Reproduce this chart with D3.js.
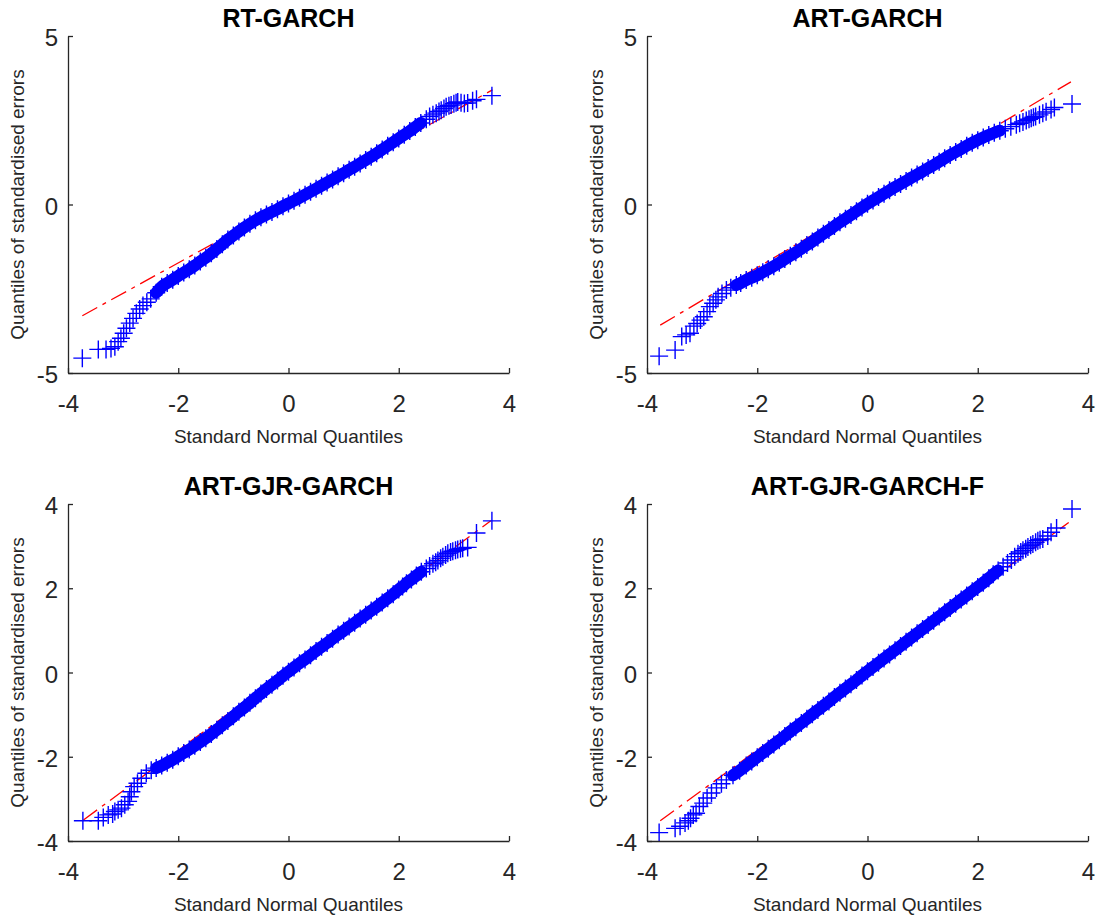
<!DOCTYPE html>
<html>
<head>
<meta charset="utf-8">
<script src="https://cdn.jsdelivr.net/npm/d3@7"></script>
<style>
  html, body { margin: 0; padding: 0; background: #fff; }
  svg { display: block; }
  text { font-family: "Liberation Sans", Arial, Helvetica, sans-serif; }
</style>
</head>
<body>
<svg id="chart" width="1099" height="917"></svg>
<script>
// ---------------- data ----------------
const titles = ["RT-GARCH", "ART-GARCH", "ART-GJR-GARCH", "ART-GJR-GARCH-F"];
const xLabel = "Standard Normal Quantiles";
const yLabel = "Quantiles of standardised errors";
const xTicks = [-4, -2, 0, 2, 4];
const yTicksTop = [-5, 0, 5];
const yTicksBottom = [-4, -2, 0, 2, 4];

// RT-GARCH: theoretical quantiles / sample quantiles
const rtX = [-3.74,-3.45,-3.31,-3.22,-3.15,-3.09,-3.04,-2.99,-2.94,-2.88,-2.82,-2.76,-2.70,-2.64,-2.57,
  -2.50,-2.40,-2.30,-2.20,-2.10,-2.00,-1.90,-1.80,-1.70,-1.60,-1.50,-1.40,-1.30,-1.20,-1.10,-1.00,
  -0.90,-0.80,-0.70,-0.60,-0.50,-0.40,-0.30,-0.20,-0.10,0.00,0.10,0.20,0.30,0.40,0.50,0.60,0.70,0.80,
  0.90,1.00,1.10,1.20,1.30,1.40,1.50,1.60,1.70,1.80,1.90,2.00,2.10,2.20,2.30,2.40,2.50,2.56,2.62,2.68,
  2.73,2.77,2.82,2.86,2.91,2.95,3.00,3.04,3.07,3.13,3.19,3.25,3.34,3.41,3.69];
const rtY = [-4.56,-4.30,-4.30,-4.27,-4.22,-4.07,-3.97,-3.82,-3.67,-3.52,-3.38,-3.23,-3.10,-3.00,-2.90,
  -2.80,-2.62,-2.44,-2.33,-2.23,-2.12,-2.02,-1.92,-1.81,-1.69,-1.58,-1.45,-1.32,-1.18,-1.04,-0.92,
  -0.80,-0.68,-0.57,-0.47,-0.38,-0.30,-0.22,-0.14,-0.05,0.03,0.11,0.20,0.29,0.38,0.47,0.56,0.65,0.74,
  0.84,0.93,1.03,1.12,1.22,1.32,1.42,1.52,1.63,1.74,1.85,1.96,2.07,2.18,2.30,2.42,2.53,2.61,2.66,2.71,
  2.76,2.80,2.85,2.90,2.93,2.95,2.99,3.02,3.04,3.02,3.00,3.01,3.08,3.12,3.23];
const rtRef = [[-3.74, -3.30], [3.70, 3.40]];

// ART-GARCH
const artX = [-3.78,-3.49,-3.37,-3.29,-3.22,-3.15,-3.09,-3.03,-2.97,-2.91,-2.86,-2.80,-2.75,-2.71,-2.64,
  -2.56,-2.48,-2.38,-2.30,-2.20,-2.10,-2.00,-1.90,-1.80,-1.70,-1.60,-1.50,-1.40,-1.30,-1.20,-1.10,-1.00,
  -0.90,-0.80,-0.70,-0.60,-0.50,-0.40,-0.30,-0.20,-0.10,0.00,0.10,0.20,0.30,0.40,0.50,0.60,0.70,0.80,
  0.90,1.00,1.10,1.20,1.30,1.40,1.50,1.60,1.70,1.80,1.90,2.00,2.10,2.20,2.30,2.40,2.50,2.60,2.70,2.76,
  2.82,2.88,2.93,2.97,3.01,3.05,3.12,3.18,3.24,3.33,3.39,3.71];
const artY = [-4.50,-4.32,-3.92,-3.87,-3.82,-3.61,-3.53,-3.43,-3.33,-3.18,-3.03,-2.93,-2.83,-2.74,-2.64,
  -2.54,-2.47,-2.39,-2.33,-2.24,-2.17,-2.10,-2.01,-1.92,-1.83,-1.73,-1.62,-1.52,-1.42,-1.31,-1.20,-1.10,
  -0.98,-0.87,-0.76,-0.64,-0.53,-0.42,-0.31,-0.20,-0.09,0.02,0.12,0.22,0.32,0.42,0.52,0.61,0.70,0.80,
  0.89,0.98,1.08,1.17,1.27,1.37,1.47,1.56,1.65,1.74,1.83,1.91,1.99,2.06,2.13,2.19,2.25,2.31,2.37,2.41,
  2.45,2.49,2.53,2.56,2.59,2.61,2.66,2.71,2.75,2.82,2.88,2.98];
const artRef = [[-3.76, -3.58], [3.69, 3.64]];

// ART-GJR-GARCH
const gjrX = [-3.73,-3.45,-3.36,-3.27,-3.19,-3.15,-3.09,-3.03,-2.97,-2.91,-2.88,-2.85,-2.80,-2.74,-2.67,
  -2.58,-2.49,-2.40,-2.30,-2.20,-2.10,-2.00,-1.90,-1.80,-1.70,-1.60,-1.50,-1.40,-1.30,-1.20,-1.10,-1.00,
  -0.90,-0.80,-0.70,-0.60,-0.50,-0.40,-0.30,-0.20,-0.10,0.00,0.10,0.20,0.30,0.40,0.50,0.60,0.70,0.80,
  0.90,1.00,1.10,1.20,1.30,1.40,1.50,1.60,1.70,1.80,1.90,2.00,2.07,2.14,2.23,2.32,2.41,2.50,2.56,2.62,
  2.67,2.71,2.76,2.80,2.85,2.89,2.94,2.98,3.03,3.07,3.12,3.16,3.25,3.41,3.69];
const gjrY = [-3.52,-3.52,-3.44,-3.38,-3.36,-3.30,-3.26,-3.22,-3.14,-3.06,-2.95,-2.83,-2.71,-2.63,-2.51,
  -2.39,-2.32,-2.27,-2.21,-2.14,-2.07,-1.99,-1.91,-1.83,-1.74,-1.65,-1.56,-1.46,-1.36,-1.25,-1.15,-1.04,
  -0.93,-0.83,-0.72,-0.61,-0.50,-0.39,-0.29,-0.19,-0.08,0.02,0.12,0.22,0.31,0.41,0.51,0.61,0.70,0.80,
  0.90,0.99,1.09,1.18,1.28,1.37,1.47,1.56,1.66,1.76,1.86,1.97,2.04,2.12,2.21,2.30,2.39,2.47,2.53,2.58,
  2.62,2.66,2.71,2.75,2.79,2.83,2.86,2.88,2.90,2.92,2.94,2.95,2.97,3.31,3.60];
const gjrRef = [[-3.72, -3.50], [3.67, 3.60]];

// ART-GJR-GARCH-F
const gjrfX = [-3.78,-3.49,-3.40,-3.31,-3.25,-3.21,-3.16,-3.11,-3.05,-2.98,-2.91,-2.83,-2.74,-2.65,-2.56,
  -2.44,-2.32,-2.20,-2.10,-2.00,-1.90,-1.80,-1.70,-1.60,-1.50,-1.40,-1.30,-1.20,-1.10,-1.00,
  -0.90,-0.80,-0.70,-0.60,-0.50,-0.40,-0.30,-0.20,-0.10,0.00,0.10,0.20,0.30,0.40,0.50,0.60,0.70,0.80,
  0.90,1.00,1.10,1.20,1.30,1.40,1.50,1.60,1.70,1.80,1.90,2.00,2.10,2.20,2.28,2.37,2.46,2.54,2.61,2.67,
  2.73,2.78,2.82,2.87,2.91,2.96,3.00,3.05,3.09,3.13,3.18,3.27,3.33,3.43,3.71];
const gjrfY = [-3.80,-3.70,-3.65,-3.57,-3.52,-3.46,-3.38,-3.34,-3.18,-3.10,-2.98,-2.86,-2.74,-2.64,-2.55,
  -2.44,-2.33,-2.21,-2.11,-2.01,-1.91,-1.81,-1.71,-1.61,-1.51,-1.40,-1.30,-1.20,-1.10,-0.99,
  -0.89,-0.79,-0.69,-0.58,-0.48,-0.38,-0.28,-0.18,-0.07,0.03,0.13,0.23,0.33,0.43,0.53,0.63,0.73,0.83,
  0.93,1.03,1.13,1.23,1.33,1.43,1.53,1.63,1.73,1.83,1.93,2.03,2.13,2.24,2.33,2.42,2.51,2.60,2.67,2.75,
  2.82,2.86,2.90,2.94,2.98,3.02,3.05,3.09,3.13,3.15,3.17,3.24,3.33,3.43,3.88];
const gjrfRef = [[-3.76, -3.52], [3.65, 3.56]];

// ---------------- layout ----------------
const panels = [
  { title: titles[0], xs: rtX,   ys: rtY,   ref: rtRef,   left: 68,  top: 36,  yDom: [-5, 5], yTicks: yTicksTop },
  { title: titles[1], xs: artX,  ys: artY,  ref: artRef,  left: 647, top: 36,  yDom: [-5, 5], yTicks: yTicksTop },
  { title: titles[2], xs: gjrX,  ys: gjrY,  ref: gjrRef,  left: 68,  top: 504, yDom: [-4, 4], yTicks: yTicksBottom },
  { title: titles[3], xs: gjrfX, ys: gjrfY, ref: gjrfRef, left: 647, top: 504, yDom: [-4, 4], yTicks: yTicksBottom }
];
const W = 441, H = 337;
const axisColor = "#262626";
const svg = d3.select("#chart");
svg.append("rect").attr("width", 1099).attr("height", 917).attr("fill", "#fff");

panels.forEach(p => {
  const g = svg.append("g").attr("transform", `translate(${p.left},${p.top})`);
  const x = d3.scaleLinear().domain([-4, 4]).range([0, W]);
  const y = d3.scaleLinear().domain(p.yDom).range([H, 0]);
  const pts = p.xs.map((v, i) => [v, p.ys[i]]);

  // reference line (dash-dot, red)
  g.append("path")
    .attr("d", d3.line().x(d => x(d[0])).y(d => y(d[1]))(p.ref))
    .attr("fill", "none").attr("stroke", "#ff0000").attr("stroke-width", 1.3)
    .attr("stroke-dasharray", "17,6,4,6");

  // dense central band (where markers overlap completely)
  const band = pts.filter(d => d[0] >= -2.45 && d[0] <= 2.45);
  g.append("path")
    .attr("d", d3.line().curve(d3.curveMonotoneX).x(d => x(d[0])).y(d => y(d[1]))(band))
    .attr("fill", "none").attr("stroke", "#0000ff").attr("stroke-width", 12)
    .attr("stroke-linejoin", "round").attr("stroke-linecap", "round");

  // plus markers
  g.selectAll("path.mk").data(pts).join("path")
    .attr("class", "mk")
    .attr("transform", d => `translate(${x(d[0])},${y(d[1])})`)
    .attr("d", "M-9,0H9M0,-9V9")
    .attr("fill", "none").attr("stroke", "#0000ff").attr("stroke-width", 1.4);

  // axes
  const xa = g.append("g").attr("transform", `translate(0,${H})`)
    .call(d3.axisBottom(x).tickValues(xTicks).tickSizeInner(-5).tickSizeOuter(0).tickPadding(22)
      .tickFormat(d => String(d)));
  const ya = g.append("g")
    .call(d3.axisLeft(y).tickValues(p.yTicks).tickSizeInner(-5).tickSizeOuter(0).tickPadding(10)
      .tickFormat(d => String(d)));
  [xa, ya].forEach(a => {
    a.selectAll("path.domain").attr("stroke", axisColor).attr("stroke-width", 1.3);
    a.selectAll(".tick line").attr("stroke", axisColor).attr("stroke-width", 1.3);
    a.selectAll(".tick text").attr("fill", axisColor)
      .style("font-size", "24px").style("font-family", '"Liberation Sans", Arial, sans-serif');
  });
  ya.selectAll(".tick text").attr("dy", "0.4em");

  // labels
  g.append("text").attr("x", W / 2).attr("y", -9).attr("text-anchor", "middle")
    .style("font-size", "25px").style("font-weight", "bold").attr("fill", "#000")
    .text(p.title);
  g.append("text").attr("x", W / 2).attr("y", H + 70).attr("text-anchor", "middle")
    .style("font-size", "19px").attr("fill", axisColor).text(xLabel);
  g.append("text").attr("transform", `translate(-44,${H / 2}) rotate(-90)`)
    .attr("text-anchor", "middle").style("font-size", "19px").attr("fill", axisColor).text(yLabel);
});
</script>
</body>
</html>
